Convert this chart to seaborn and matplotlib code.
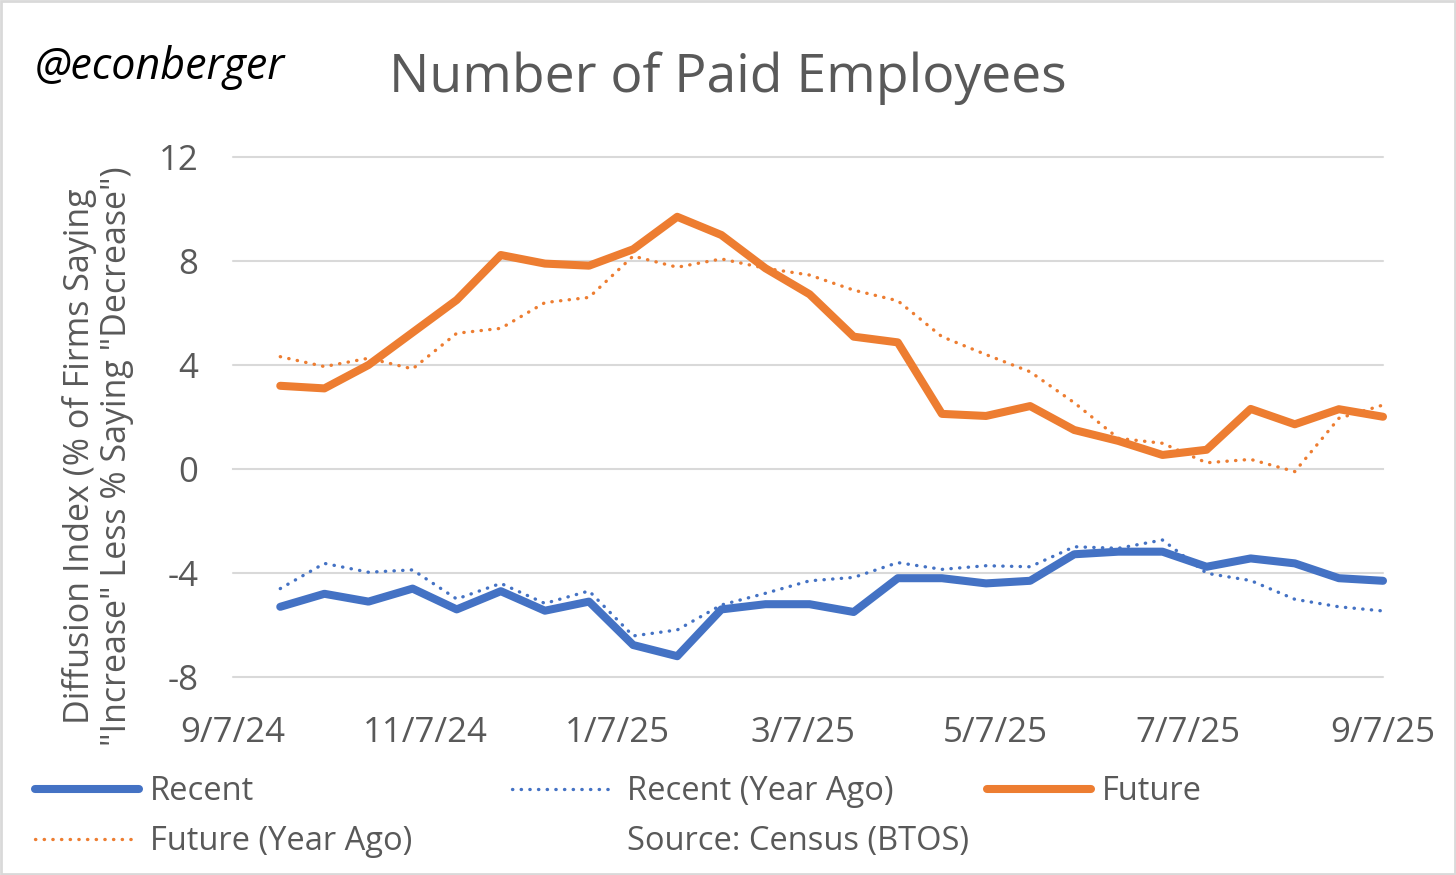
import matplotlib
matplotlib.use("Agg")
import matplotlib.pyplot as plt
from matplotlib.lines import Line2D
from matplotlib.patches import Rectangle
import seaborn as sns
import pandas as pd
import numpy as np

# ---- data ----
dates = pd.date_range("2024-09-22", periods=26, freq="14D")
recent = [-5.3, -4.8, -5.1, -4.6, -5.4, -4.7, -5.45, -5.1, -6.77, -7.2, -5.4, -5.2, -5.2,
          -5.5, -4.2, -4.2, -4.4, -4.3, -3.28, -3.18, -3.18, -3.76, -3.44, -3.63, -4.2, -4.3]
recent_ya = [-4.6, -3.63, -3.97, -3.88, -5.0, -4.4, -5.17, -4.69, -6.42, -6.19, -5.23, -4.78, -4.3,
             -4.17, -3.6, -3.86, -3.72, -3.76, -2.99, -3.05, -2.73, -4.01, -4.29, -5.01, -5.3, -5.46]
future = [3.2, 3.1, 4.0, 5.25, 6.5, 8.23, 7.9, 7.82, 8.45, 9.7, 9.0, 7.72, 6.72,
          5.09, 4.87, 2.12, 2.04, 2.42, 1.5, 1.08, 0.54, 0.74, 2.31, 1.72, 2.3, 2.01]
future_ya = [4.32, 3.94, 4.26, 3.85, 5.22, 5.41, 6.4, 6.6, 8.19, 7.76, 8.08, 7.72, 7.46,
             6.88, 6.47, 5.09, 4.4, 3.74, 2.55, 1.18, 0.99, 0.24, 0.37, -0.1, 1.95, 2.46]
series_names = ["Recent", "Recent (Year Ago)", "Future", "Future (Year Ago)"]
tick_dates = ["2024-09-07", "2024-11-07", "2025-01-07", "2025-03-07",
              "2025-05-07", "2025-07-07", "2025-09-07"]
y_ticks = [-8, -4, 0, 4, 8, 12]
title = "Number of Paid Employees"
ylabel = "Diffusion Index (% of Firms Saying\n\"Increase\" Less % Saying \"Decrease\")"
source = "Source: Census (BTOS)"
handle_name = "@econberger"

BLUE = "#4472C4"
ORANGE = "#ED7D31"
GRID = "#D9D9D9"
TXT = "#595959"

sns.set_theme(style="white")
plt.rcParams["font.family"] = ["Open Sans", "DejaVu Sans"]

df = pd.DataFrame({
    "date": np.tile(dates, 4),
    "value": recent + recent_ya + future + future_ya,
    "series": np.repeat(series_names, len(dates)),
})

fig = plt.figure(figsize=(14.56, 8.75), dpi=100)
ax = fig.add_axes([233/1456, 1-677/875, (1383-233)/1456, (677-157)/875])

palette = {"Recent": BLUE, "Recent (Year Ago)": BLUE, "Future": ORANGE, "Future (Year Ago)": ORANGE}
sns.lineplot(data=df, x="date", y="value", hue="series", palette=palette,
             hue_order=series_names, legend=False, ax=ax, estimator=None, sort=False)

styles = {
    "Recent": dict(lw=5.8, ls="-"),
    "Recent (Year Ago)": dict(lw=2.4, ls=(0, (0.1, 2.5))),
    "Future": dict(lw=5.8, ls="-"),
    "Future (Year Ago)": dict(lw=2.4, ls=(0, (0.1, 2.5))),
}
for line, name in zip(ax.get_lines(), series_names):
    st = styles[name]
    line.set_linewidth(st["lw"])
    line.set_linestyle(st["ls"])
    line.set_solid_capstyle("round")
    line.set_solid_joinstyle("round")
    line.set_dash_capstyle("round")
    line.set_clip_on(False)
lines = ax.get_lines()
lines[0].set_zorder(4); lines[2].set_zorder(4)
lines[1].set_zorder(3); lines[3].set_zorder(3)

tds = pd.to_datetime(tick_dates)
ax.set_xlim(tds[0], tds[-1])
ax.set_ylim(-8, 12)
ax.set_yticks(y_ticks)
ax.set_yticklabels([str(v) for v in y_ticks])
ax.tick_params(axis="y", length=0, pad=25, labelsize=25, labelcolor=TXT)
for v in y_ticks:
    if v != 0:
        ax.axhline(v, color=GRID, lw=1.5, zorder=0, clip_on=False)
ax.grid(False)
for s in ["top", "right", "left"]:
    ax.spines[s].set_visible(False)
ax.spines["bottom"].set_position(("data", 0))
ax.spines["bottom"].set_color(GRID)
ax.spines["bottom"].set_linewidth(1.5)
ax.set_xticks(tds)
ax.tick_params(axis="x", direction="out", length=8, width=1.5, color=GRID, labelbottom=False)
ax.set_xlabel("")
ax.set_ylabel("")

sec = ax.secondary_xaxis(0.0)
sec.set_xticks(tds)
sec.set_xticklabels([f"{d.month}/{d.day}/{d.strftime('%y')}" for d in tds])
sec.tick_params(axis="x", length=0, pad=28, labelsize=25, labelcolor=TXT)
sec.spines["bottom"].set_visible(False)

fig.text(98/1456, 1-456/875, ylabel, rotation=90, ha="center", va="center",
         multialignment="center", fontsize=24.5, color=TXT, linespacing=1.15)
fig.text(728/1456, 1-78/875, title, ha="center", va="center", fontsize=38.5, color=TXT)
fig.text(35/1456, 1-68/875, handle_name, ha="left", va="center", fontsize=31,
         style="italic", color="black")

def mk(name):
    st = styles[name]
    c = BLUE if name.startswith("Recent") else ORANGE
    return Line2D([], [], color=c, lw=st["lw"], ls=st["ls"], solid_capstyle="round",
                  dash_capstyle="round")

blank = Line2D([], [], color="none")
cols = [
    (35, [mk("Recent"), mk("Future (Year Ago)")], ["Recent", "Future (Year Ago)"]),
    (512, [mk("Recent (Year Ago)"), blank], ["Recent (Year Ago)", source]),
    (987, [mk("Future")], ["Future"]),
]
for x0, hs, ls_ in cols:
    fig.legend(hs, ls_, loc="upper left", bbox_to_anchor=(x0/1456, 1-775/875),
               frameon=False, fontsize=23.5, labelcolor=TXT, handlelength=3.2,
               handletextpad=0.33, borderaxespad=0, borderpad=0, labelspacing=0.52)

fig.add_artist(Rectangle((0.001, 0.001), 0.998, 0.998, transform=fig.transFigure,
                         fill=False, edgecolor=GRID, lw=2))

fig.savefig("out.png", dpi=100, facecolor="white")
